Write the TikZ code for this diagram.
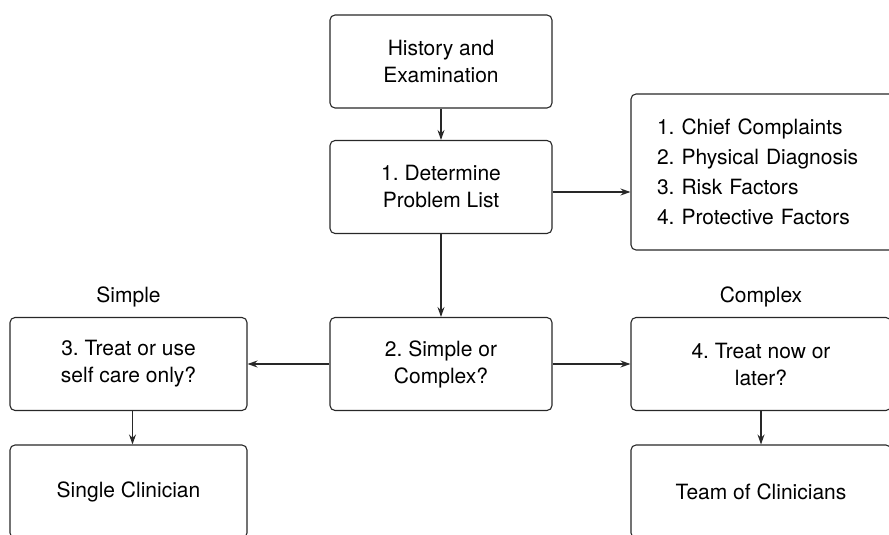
\documentclass[tikz,border=0pt]{standalone}
\usepackage{fontspec}
\setmainfont{TeX Gyre Heros}
\usepackage{tikz}
\usetikzlibrary{arrows.meta}
\usetikzlibrary{positioning}
\definecolor{LineColor}{RGB}{40,40,40}
\frenchspacing
\tikzstyle{process} = [rectangle, rounded corners=5pt, minimum width=222pt, minimum height=93pt, align=center, draw=LineColor, line width=1.1pt, font=\fontsize{21}{27}\selectfont]
\tikzstyle{arrow} = [line width=1.1pt, LineColor, -{Stealth[length=10pt,width=7pt]}]
\tikzstyle{label} = [font=\fontsize{21}{24}\selectfont]

\begin{document}
\begin{tikzpicture}[x=1pt, y=-1pt]
    \useasboundingbox (0,0) rectangle (889,535);
    \clip (0,0) rectangle (889,535);
    % centre column
    \node[process] (history) at (441,61.5) {History and\\Examination};
    \node[process] (problem) at (441,187) {1. Determine\\Problem List};
    \node[process] (decide) at (441,364) {2. Simple or\\Complex?};
    % problem list contents
    \node[process, minimum width=270pt, minimum height=156pt, text width=218pt, inner xsep=26pt, align=left, font=\fontsize{21}{30}\selectfont] (factors) at (766,172)
        {1. Chief Complaints\\2. Physical Diagnosis\\3. Risk Factors\\4. Protective Factors};
    % simple branch
    \node[process, minimum width=237pt] (selfcare) at (128.5,364) {3. Treat or use\\self care only?};
    \node[process, minimum width=237pt] (single) at (128.5,491.5) {Single Clinician};
    \node[label] (simple) at (128.5,297) {Simple};
    % complex branch
    \node[process, minimum width=260pt] (timing) at (761,364) {4. Treat now or\\later?};
    \node[process, minimum width=260pt] (team) at (761,491.5) {Team of Clinicians};
    \node[label] (complex) at (761,297) {Complex};

    \draw[arrow] (history) -- (problem);
    \draw[arrow] (problem) -- (decide);
    \draw[arrow] ([yshift=-5pt]problem.east) -- ([yshift=-5pt]problem.east -| factors.west);
    \draw[arrow] (decide) -- (selfcare);
    \draw[arrow] (decide) -- (timing);
    \draw[arrow] ([xshift=4pt]selfcare.south) -- ([xshift=4pt]single.north);
    \draw[arrow] (timing) -- (team);
\end{tikzpicture}
\end{document}
